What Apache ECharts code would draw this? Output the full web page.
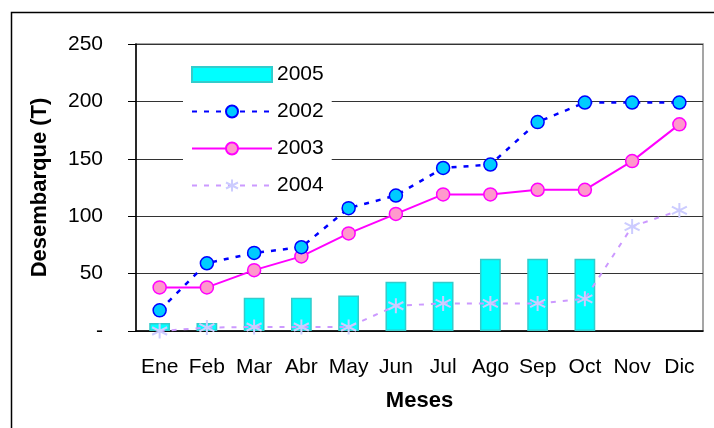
<!DOCTYPE html>
<html>
<head>
<meta charset="utf-8">
<script src="https://cdn.jsdelivr.net/npm/echarts@6/dist/echarts.min.js"></script>
<style>
  html, body { margin: 0; padding: 0; background: #fff; }
  #main { width: 714px; height: 428px; }
</style>
</head>
<body>
<div id="main"></div>
<script>
var meses = ['Ene', 'Feb', 'Mar', 'Abr', 'May', 'Jun', 'Jul', 'Ago', 'Sep', 'Oct', 'Nov', 'Dic']
var d2005 = [7, 7, 29, 29, 31, 43, 43, 63, 63, 63, null, null]
var d2002 = [18, 59, 68, 73, 107, 118, 142, 145, 182, 199, 199, 199]
var d2003 = [38, 38, 53, 65, 85, 102, 119, 119, 123, 123, 148, 180]
var d2004 = [0, 3, 3.5, 3.5, 3.5, 22, 24, 24, 24, 28, 91, 105]

// asterisco para la serie 2004
var asterisco = 'path://M10,0L10,20M1.3,5L18.7,15M1.3,15L18.7,5'
var fuente = 'Liberation Sans, Arial, sans-serif'

var myChart = echarts.init(document.getElementById('main'))
myChart.setOption({
    animation: false,
    textStyle: { fontFamily: fuente },
    graphic: [{
        type: 'rect',
        shape: { x: 11.5, y: 12.5, width: 720, height: 430 },
        style: { fill: 'none', stroke: '#000', lineWidth: 1.5 },
        silent: true
    }],
    grid: { left: 136, right: 11, top: 44, bottom: 97, show: true, borderColor: '#888', borderWidth: 1.5, backgroundColor: 'transparent' },
    legend: {
        orient: 'vertical',
        left: 183,
        top: 60,
        itemWidth: 80,
        itemHeight: 15,
        itemGap: 16,
        padding: [4, 8, 4, 8],
        backgroundColor: '#fff',
        textStyle: { fontSize: 21, color: '#000', fontFamily: fuente },
        data: [{ name: '2005', icon: 'rect' }, '2002', '2003', '2004']
    },
    xAxis: {
        type: 'category',
        data: meses,
        name: 'Meses',
        nameLocation: 'middle',
        nameGap: 59,
        nameTextStyle: { fontSize: 22, fontWeight: 'bold', color: '#000', fontFamily: fuente },
        axisLine: { lineStyle: { color: '#000', width: 1.5 } },
        axisTick: { length: 8, lineStyle: { color: '#000' } },
        axisLabel: { fontSize: 21, color: '#000', margin: 26, interval: 0, fontFamily: fuente }
    },
    yAxis: {
        type: 'value',
        min: 0,
        max: 250,
        interval: 50,
        name: 'Desembarque (T)',
        nameLocation: 'middle',
        nameGap: 85,
        nameTextStyle: { fontSize: 22, fontWeight: 'bold', color: '#000', fontFamily: fuente },
        axisLine: { show: true, lineStyle: { color: '#000', width: 1.5 } },
        axisTick: { show: true, length: 8, lineStyle: { color: '#000' } },
        axisLabel: {
            fontSize: 21, color: '#000', margin: 33, fontFamily: fuente,
            formatter: function (v) { return v === 0 ? '-' : v }
        },
        splitLine: { lineStyle: { color: '#333', width: 1.2 } }
    },
    series: [{
        name: '2005',
        type: 'bar',
        data: d2005,
        barWidth: '44%',
        z: 1,
        itemStyle: { color: '#00FFFF', borderColor: '#33CCCC', borderWidth: 1.5 }
    }, {
        name: '2002',
        type: 'line',
        data: d2002,
        z: 4,
        symbol: 'circle',
        symbolSize: 13,
        lineStyle: { color: '#0000FF', width: 2.5, type: [5, 7] },
        itemStyle: { color: '#00CCFF', borderColor: '#0000FF', borderWidth: 1.5 }
    }, {
        name: '2003',
        type: 'line',
        data: d2003,
        z: 3,
        symbol: 'circle',
        symbolSize: 13,
        lineStyle: { color: '#FF00FF', width: 2 },
        itemStyle: { color: '#FF99CC', borderColor: '#FF00FF', borderWidth: 1.5 }
    }, {
        name: '2004',
        type: 'line',
        data: d2004,
        z: 2,
        symbol: asterisco,
        symbolSize: 15,
        lineStyle: { color: '#CC99FF', width: 2, type: [5, 7] },
        itemStyle: { color: 'none', borderColor: '#CCCCFF', borderWidth: 2 }
    }]
})
</script>
</body>
</html>
